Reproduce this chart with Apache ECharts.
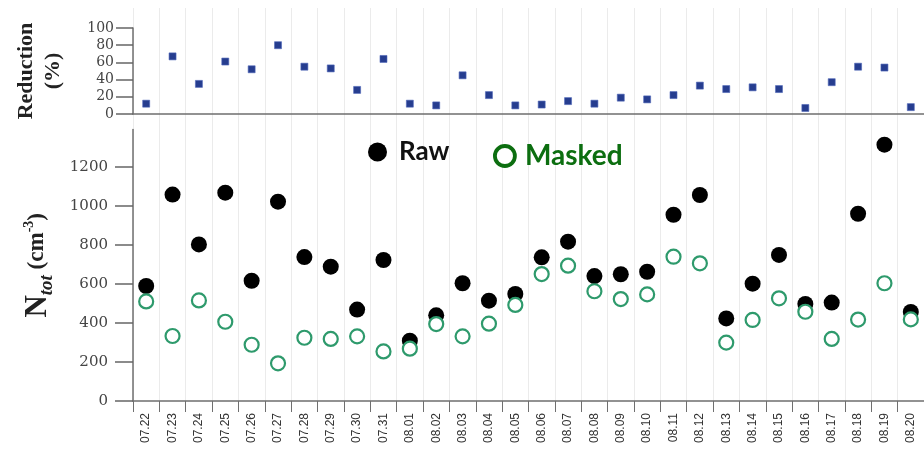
<!DOCTYPE html>
<html>
<head>
<meta charset="utf-8">
<script src="https://cdn.jsdelivr.net/npm/echarts@6/dist/echarts.min.js"></script>
<style>
  html, body { margin: 0; padding: 0; background: #fff; }
  #chart { width: 924px; height: 462px; }
</style>
</head>
<body>
<div id="chart"></div>
<script>
// Daily dates
const days = ['07.22','07.23','07.24','07.25','07.26','07.27','07.28','07.29','07.30','07.31',
  '08.01','08.02','08.03','08.04','08.05','08.06','08.07','08.08','08.09','08.10',
  '08.11','08.12','08.13','08.14','08.15','08.16','08.17','08.18','08.19','08.20'];

// Total number concentration, cm^-3
const rawN = [589,1057,802,1067,616,1021,737,688,468,722,
  309,439,603,514,548,736,816,640,649,662,
  954,1055,423,601,748,497,504,959,1313,456];
const maskedN = [510,333,515,406,288,193,324,318,331,254,
  268,394,331,396,492,650,693,562,522,546,
  739,705,299,415,526,457,318,417,603,418];

// Reduction after masking, %
const reduction = [12,67,35,61,52,80,55,53,28,64,
  12,10,45,22,10,11,15,12,19,17,
  22,33,29,31,29,7,37,55,54,8];

const rangeTicks = [0,200,400,600,800,1000,1200];

const serif = '"Liberation Serif", "DejaVu Serif", serif';
const tickSerif = '"DejaVu Serif", "Liberation Serif", serif';
const sans = '"Liberation Sans", Arial, sans-serif';
const axisGray = '#6f6f6f';

const chart = echarts.init(document.getElementById('chart'));

chart.setOption({
  animation: false,
  grid: [
    // shared background holding the day separators
    { left: 133, right: -7, top: 8, bottom: 55 },
    // reduction panel
    { left: 133, right: -7, top: 28, height: 86 },
    // concentration panel
    { left: 133, right: -7, top: 129.6, bottom: 61 }
  ],
  legend: [
    {
      left: 368, top: 139, padding: 0,
      itemWidth: 19, itemHeight: 19,
      icon: 'circle',
      data: [{ name: 'Raw', itemStyle: { color: '#000', borderWidth: 0 } }],
      textStyle: { fontFamily: 'Lato, "Open Sans", sans-serif', fontWeight: 'bold', fontSize: 26, color: '#111', padding: [0, 0, 0, 7] }
    },
    {
      left: 493, top: 142, padding: 0,
      itemWidth: 20, itemHeight: 20,
      icon: 'circle',
      data: [{ name: 'Masked', itemStyle: { color: '#fff', borderColor: '#0c6e10', borderWidth: 3.8 } }],
      textStyle: { fontFamily: 'Lato, "Open Sans", sans-serif', fontWeight: 'bold', fontSize: 28, color: '#0c6e10', padding: [0, 0, 0, 5] }
    }
  ],
  xAxis: [
    {
      gridIndex: 0, type: 'category', data: days,
      axisLine: { show: false }, axisTick: { show: false }, axisLabel: { show: false },
      splitLine: { show: true, interval: 0, lineStyle: { color: '#ebebeb', width: 1 } }
    },
    {
      gridIndex: 1, type: 'category', data: days,
      axisLine: { show: true, lineStyle: { color: axisGray, width: 1.5 } },
      axisTick: { show: false }, axisLabel: { show: false }, splitLine: { show: false }
    },
    {
      gridIndex: 2, type: 'category', data: days, offset: 6,
      axisLine: { show: true, lineStyle: { color: axisGray, width: 1.5 } },
      axisTick: { show: true, interval: 0, length: 11, lineStyle: { color: axisGray, width: 1 } },
      axisLabel: { interval: 0, rotate: 90, margin: 6, fontFamily: sans, fontSize: 12, color: '#333' },
      splitLine: { show: false }
    }
  ],
  yAxis: [
    { gridIndex: 0, show: false, min: 0, max: 1 },
    {
      gridIndex: 1, type: 'value', min: 0, max: 100, interval: 20,
      name: 'Reduction\n(%)', nameLocation: 'middle', nameGap: 66,
      nameTextStyle: { fontFamily: serif, fontWeight: 'bold', fontSize: 22, lineHeight: 27, color: '#222' },
      axisLine: { show: true, lineStyle: { color: axisGray, width: 1.5 } },
      axisTick: { show: true, length: 17, lineStyle: { color: '#666', width: 1.5 } },
      axisLabel: { margin: 19, fontFamily: tickSerif, fontSize: 14, color: '#444', lineHeight: 14 },
      splitLine: { show: false }
    },
    {
      gridIndex: 2, type: 'value', min: 0, max: 1390, interval: 200,
      name: '{n|N}{sub|tot}{p| (cm}{sup|-3}{p|)}', nameLocation: 'middle', nameGap: 80,
      nameTextStyle: {
        color: '#222',
        rich: {
          n: { fontFamily: serif, fontWeight: 'bold', fontSize: 31, color: '#222' },
          sub: { fontFamily: serif, fontWeight: 'bold', fontStyle: 'italic', fontSize: 19, color: '#222', verticalAlign: 'bottom', padding: [0, 0, -4, 0] },
          p: { fontFamily: serif, fontWeight: 'bold', fontSize: 23, color: '#222' },
          sup: { fontFamily: serif, fontWeight: 'bold', fontSize: 14, color: '#222', verticalAlign: 'top' }
        }
      },
      axisLine: { show: true, lineStyle: { color: axisGray, width: 1.5 } },
      axisTick: { show: true, length: 18, lineStyle: { color: '#666', width: 1.5 }, customValues: rangeTicks },
      axisLabel: { margin: 25, fontFamily: tickSerif, fontSize: 15, color: '#444', showMaxLabel: false,
                   formatter: v => String(v) },
      splitLine: { show: false }
    }
  ],
  series: [
    {
      name: 'Reduction', type: 'scatter', xAxisIndex: 1, yAxisIndex: 1,
      data: reduction, symbol: 'rect', symbolSize: 7,
      itemStyle: { color: '#263d8f', opacity: 1, borderColor: '#4f66b8', borderWidth: 0.6 }
    },
    {
      name: 'Raw', type: 'scatter', xAxisIndex: 2, yAxisIndex: 2,
      data: rawN, symbol: 'circle', symbolSize: 16,
      itemStyle: { color: '#000', opacity: 1 }
    },
    {
      name: 'Masked', type: 'scatter', xAxisIndex: 2, yAxisIndex: 2,
      data: maskedN, symbol: 'circle', symbolSize: 14,
      itemStyle: { color: '#fff', opacity: 1, borderColor: '#2e9a6c', borderWidth: 2.2 }
    }
  ]
});
</script>
</body>
</html>
